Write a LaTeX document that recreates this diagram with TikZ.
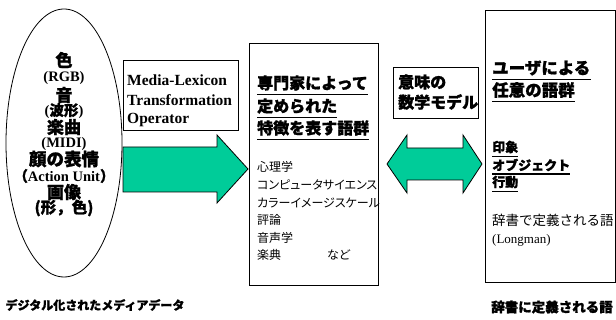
\documentclass[tikz,border=0pt]{standalone}
\usepackage{fontspec}
\setmainfont{Liberation Serif}
\newfontfamily\jp{Noto Sans CJK JP}[BoldFeatures={FakeBold=1.2}]
\newfontfamily\jpp{Noto Sans CJK JP}[RawFeature=+palt]
\usetikzlibrary{shapes.geometric}
\definecolor{arrowgreen}{RGB}{0,204,153}
\newcommand\J[1]{{\jp #1}}
\tikzset{
  frame/.style={draw, line width=0.8pt, inner sep=0pt},
  txt/.style={inner sep=0pt, anchor=west},
  ctxt/.style={inner sep=0pt, anchor=center},
  jb/.style={font=\jp\bfseries\fontsize{#1}{#1}\selectfont},
  jr/.style={font=\jp\fontsize{#1}{#1}\selectfont},
  jpr/.style={font=\jpp\fontsize{#1}{#1}\selectfont},
  lb/.style={font=\bfseries\fontsize{#1}{#1}\selectfont},
  lr/.style={font=\fontsize{#1}{#1}\selectfont},
  uline/.style={line width=1.4pt},
  bigarrow/.style={draw, line width=0.8pt, fill=arrowgreen}
}
\newcommand\under[2]{\draw[uline] ([yshift=-#2]#1.south west) -- ([yshift=-#2]#1.south east);}
\begin{document}
\begin{tikzpicture}[x=1pt,y=-1pt]
\useasboundingbox (0,0) rectangle (616,320);
% ellipse of media data
\node[frame, ellipse, minimum width=116pt, minimum height=268pt] (media) at (64,143) {};
\node[ctxt, jb=17] (e1) at (64,60) {色};
\node[ctxt, lb=14.5] (e2) at (64,78) {(RGB)};
\node[ctxt, jb=17] (e3) at (64,95) {音};
\node[ctxt, lb=14.5] (e4) at (64,111) {(\J{波形})};
\node[ctxt, jb=17] (e5) at (64,127) {楽曲};
\node[ctxt, lb=14.5] (e6) at (64,144) {(MIDI)};
\node[ctxt, jb=17.5] (e7) at (64,159) {顔の表情};
\node[ctxt, lb=14.5] (e8) at (64,176) {\J{（}Action Unit\J{）}};
\node[ctxt, jb=17] (e9) at (64,192) {画像};
\node[ctxt, jb=15.5] (e10) at (64,208) {(形，色)};
\node[ctxt, jb=12] (cap1) at (95,305) {デジタル化されたメディアデータ};
% operator box
\node[frame, minimum width=115pt, minimum height=70pt] (mlt) at (180.5,95) {};
\node[txt, lb=15.5] (m1) at (127,80) {Media-Lexicon};
\node[txt, lb=15.5] (m2) at (127,100) {Transformation};
\node[txt, lb=15.5] (m3) at (127,120) {Operator};
% middle box
\node[frame, minimum width=129pt, minimum height=242pt] (expert) at (313.5,164) {};
\node[txt, jb=16] (x1) at (257,83) {専門家によって};
\node[txt, jb=16] (x2) at (257,106) {定められた};
\node[txt, jb=16] (x3) at (257,128) {特徴を表す語群};
\under{x1}{3.6pt}\under{x2}{3.6pt}\under{x3}{3.6pt}
\node[txt, jpr=12] (l1) at (257,167) {心理学};
\node[txt, jpr=12] (l2) at (257,185) {コンピュータサイエンス};
\node[txt, jpr=12] (l3) at (257,203) {カラーイメージスケール};
\node[txt, jpr=12] (l4) at (257,220) {評論};
\node[txt, jpr=12] (l5) at (257,238) {音声学};
\node[txt, jpr=12] (l6) at (257,255) {楽典\hspace{46pt}など};
% green arrow media -> expert
\draw[bigarrow] (123,147) -- (217,147) -- (217,135) -- (248,169) -- (217,203) -- (217,192) -- (123,192) -- cycle;
% semantic model box
\node[frame, minimum width=85pt, minimum height=51pt] (sem) at (435.5,92.5) {};
\node[txt, jb=16] (s1) at (398,82) {意味の};
\node[txt, jb=16] (s2) at (398,102) {数学モデル};
% double arrow
\draw[bigarrow] (387,164) -- (407,135) -- (407,148) -- (463,148) -- (463,135) -- (482,164) -- (463,193) -- (463,180) -- (407,180) -- (407,193) -- cycle;
% right box
\node[frame, minimum width=130pt, minimum height=272pt] (user) at (550,146) {};
\node[txt, jb=16.5] (u1) at (492,68) {ユーザによる};
\node[txt, jb=16.5] (u2) at (492,90) {任意の語群};
\node[txt, jb=13] (u3) at (492,147) {印象};
\node[txt, jb=13] (u4) at (492,165) {オブジェクト};
\node[txt, jb=13] (u5) at (492,182) {行動};
\under{u1}{3.6pt}\under{u2}{3.6pt}
\under{u3}{2.8pt}\under{u4}{2.8pt}\under{u5}{2.8pt}
\node[txt, jr=13.5] (u6) at (492,220) {辞書で定義される語};
\node[txt, lr=13] (u7) at (492,240) {(Longman)};
\node[ctxt, jb=13.5] (cap2) at (552,307) {辞書に定義される語};
\end{tikzpicture}
\end{document}
